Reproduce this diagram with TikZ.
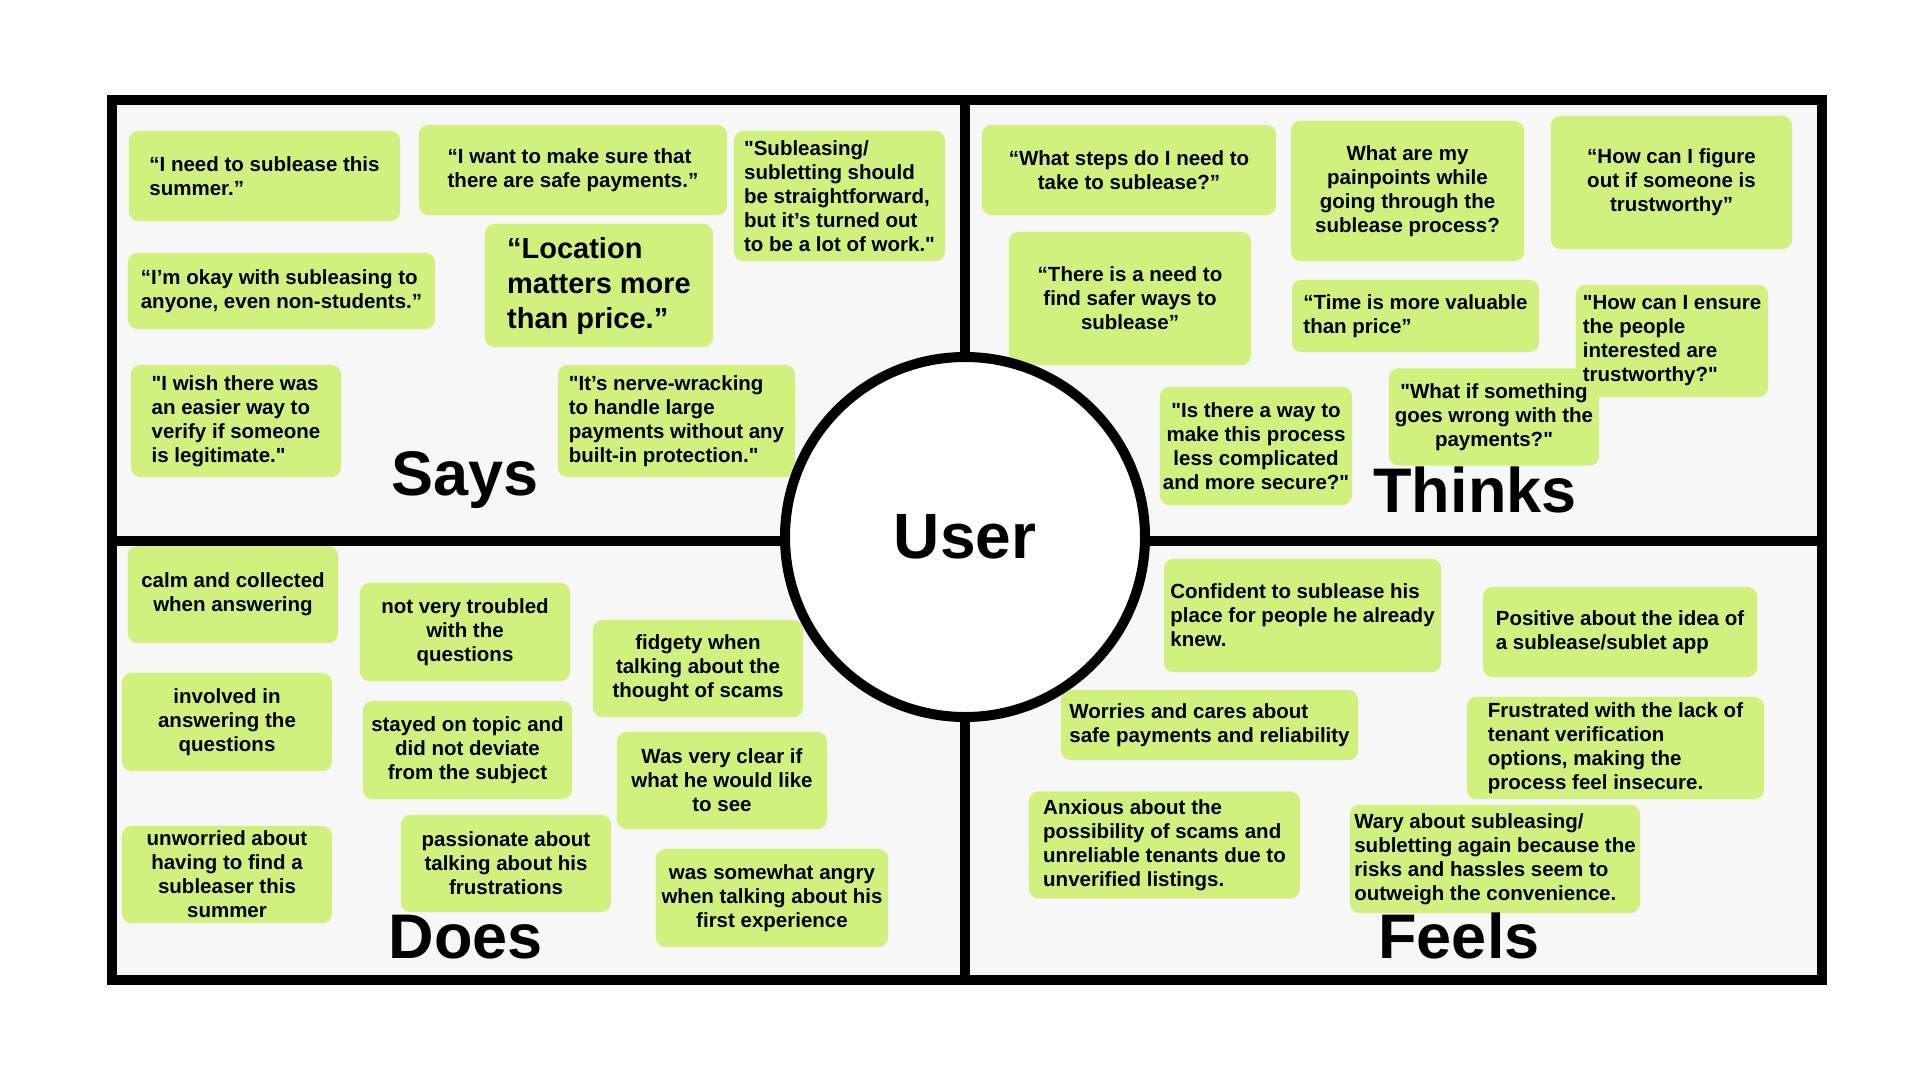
\documentclass[tikz,border=0pt]{standalone}
\usepackage{fontspec}
\setmainfont{Liberation Sans}[Ligatures=TeXOff]
\usepackage{tikz}
\usetikzlibrary{backgrounds}
\definecolor{cNote}{HTML}{D1F17F}
\definecolor{cPanel}{HTML}{F7F7F7}
\tikzset{
  note/.style={align=center, inner sep=0pt, font=\fontsize{20.5}{24}\selectfont\bfseries},
  lnote/.style={note, align=left},
  notefill/.style={fill=cNote, rounded corners=10pt},
  quad/.style={anchor=base, inner sep=0pt, font=\fontsize{63}{63}\selectfont\bfseries},
  hub/.style={circle, draw=black, line width=10pt, fill=white, minimum size=360pt, inner sep=0pt, font=\fontsize{64}{64}\selectfont\bfseries},
}

\begin{document}
\begin{tikzpicture}[x=1pt, y=-1pt]
  \useasboundingbox (0,0) rectangle (1920,1080);
  \begin{scope}[on background layer]
    \fill[white] (0,0) rectangle (1920,1080);
    \fill[cPanel] (112,100) rectangle (1822,980);
  \end{scope}
  % frame and dividers
  \draw[line width=10pt] (112,100) rectangle (1822,980);
  \draw[line width=10pt] (112,541) -- (1822,541);
  \draw[line width=10pt] (965,100) -- (965,980);

  % Says
  \node[lnote, minimum width=271pt, minimum height=90pt] (s1) at (264.5,176) {“I need to sublease this\\summer.”};
  \node[lnote, minimum width=308pt, minimum height=90pt] (s2) at (573,170) {“I want to make sure that\\there are safe payments.”};
  \node[lnote, minimum width=211pt, minimum height=130pt] (s3) at (839.5,196) {"Subleasing/\\subletting should\\be straightforward,\\but it’s turned out\\to be a lot of work."};
  \node[lnote, minimum width=307pt, minimum height=76pt] (s4) at (281.5,291) {“I’m okay with subleasing to\\anyone, even non-students.”};
  \node[lnote, minimum width=228pt, minimum height=123pt, font=\fontsize{29}{35}\selectfont\bfseries] (s5) at (599,285.5) {“Location\\matters more\\than price.”};
  \node[lnote, minimum width=210pt, minimum height=112pt] (s6) at (236,421) {"I wish there was\\an easier way to\\verify if someone\\is legitimate."};
  \node[lnote, minimum width=237pt, minimum height=112pt] (s7) at (676.5,421) {"It’s nerve-wracking\\to handle large\\payments without any\\built-in protection."};
  \node[quad] (says) at (465,495) {Says};

  % Thinks
  \node[note, minimum width=294pt, minimum height=90pt] (t1) at (1129,170) {“What steps do I need to\\take to sublease?”};
  \node[note, minimum width=233pt, minimum height=140pt] (t2) at (1407.5,191) {What are my\\painpoints while\\going through the\\sublease process?};
  \node[note, minimum width=241pt, minimum height=133pt] (t3) at (1671.5,182.5) {“How can I figure\\out if someone is\\trustworthy”};
  \node[note, minimum width=242pt, minimum height=133pt] (t4) at (1130,298.5) {“There is a need to\\find safer ways to\\sublease”};
  \node[lnote, minimum width=247pt, minimum height=72pt] (t5) at (1415.5,316) {“Time is more valuable\\than price”};
  \node[lnote, minimum width=192pt, minimum height=112pt] (t6) at (1672,341) {"How can I ensure\\the people\\interested are\\trustworthy?"};
  \node[note, minimum width=210pt, minimum height=97pt] (t7) at (1494,417) {"What if something\\goes wrong with the\\payments?"};
  \node[note, minimum width=192pt, minimum height=118pt] (t8) at (1256,446) {"Is there a way to\\make this process\\less complicated\\and more secure?"};
  \node[quad] (thinks) at (1475,512) {Thinks};

  % Does
  \node[note, minimum width=210pt, minimum height=97pt] (d1) at (233,594.5) {calm and collected\\when answering};
  \node[note, minimum width=210pt, minimum height=98pt] (d2) at (465,632) {not very troubled\\with the\\questions};
  \node[note, minimum width=210pt, minimum height=97pt] (d3) at (698,668.5) {fidgety when\\talking about the\\thought of scams};
  \node[note, minimum width=210pt, minimum height=98pt] (d4) at (227,722) {involved in\\answering the\\questions};
  \node[note, minimum width=209pt, minimum height=98pt] (d5) at (467.5,750) {stayed on topic and\\did not deviate\\from the subject};
  \node[note, minimum width=210pt, minimum height=97pt] (d6) at (722,780.5) {Was very clear if\\what he would like\\to see};
  \node[note, minimum width=210pt, minimum height=97pt] (d7) at (227,874.5) {unworried about\\having to find a\\subleaser this\\summer};
  \node[note, minimum width=210pt, minimum height=97pt] (d8) at (506,863.5) {passionate about\\talking about his\\frustrations};
  \node[note, minimum width=232pt, minimum height=98pt] (d9) at (772,898) {was somewhat angry\\when talking about his\\first experience};
  \node[quad] (does) at (466,958) {Does};

  % Feels
  \node[lnote, minimum width=277pt, minimum height=113pt] (f1) at (1302.5,615.5) {Confident to sublease his\\place for people he already\\knew.};
  \node[lnote, minimum width=274pt, minimum height=90pt] (f2) at (1620,632) {Positive about the idea of\\a sublease/sublet app};
  \node[lnote, minimum width=297pt, minimum height=70pt] (f3) at (1209.5,725) {Worries and cares about\\safe payments and reliability};
  \node[lnote, minimum width=297pt, minimum height=102pt] (f4) at (1615.5,748) {Frustrated with the lack of\\tenant verification\\options, making the\\process feel insecure.};
  \node[lnote, minimum width=271pt, minimum height=107pt] (f5) at (1164.5,845) {Anxious about the\\possibility of scams and\\unreliable tenants due to\\unverified listings.};
  \node[lnote, minimum width=290pt, minimum height=108pt] (f6) at (1495,859) {Wary about subleasing/\\subletting again because the\\risks and hassles seem to\\outweigh the convenience.};
  \node[quad] (feels) at (1459,958) {Feels};

  \begin{scope}[on background layer]
    \foreach \n in {s1,s2,s3,s4,s5,s6,s7,t1,t2,t3,t4,t5,t6,t7,t8,d1,d2,d3,d4,d5,d6,d7,d8,d9,f1,f2,f3,f4,f5,f6}
      \fill[notefill] (\n.north west) rectangle (\n.south east);
  \end{scope}

  \node[hub] (user) at (965,537) {User};
\end{tikzpicture}
\end{document}
